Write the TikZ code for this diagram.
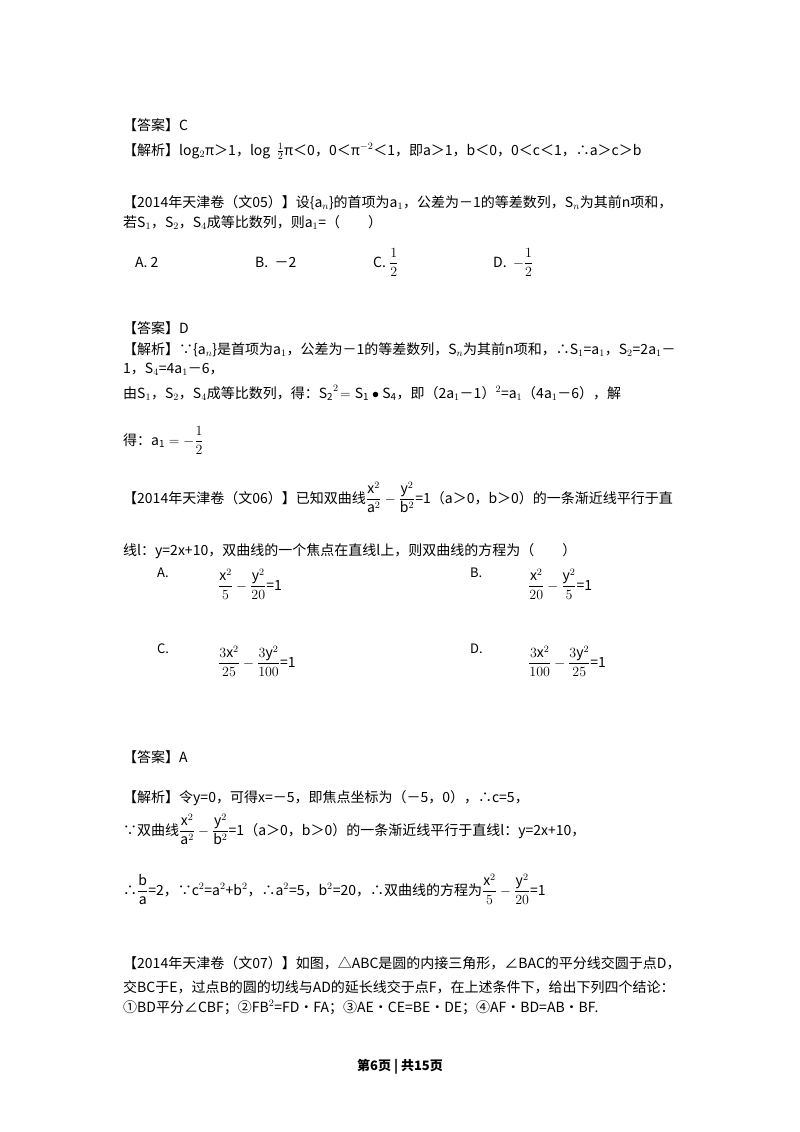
\RequirePackage{fix-cm}
\documentclass[tikz,border=0pt]{standalone}
\usepackage{amsmath}
\usepackage{fontspec}
\setmainfont{Noto Sans CJK SC}
\begin{document}
\begin{tikzpicture}[x=1pt,y=-1pt,
 t/.style={anchor=base west,inner sep=0pt,font=\fontsize{14}{16}\selectfont},
 s/.style={anchor=base west,inner sep=0pt,font=\fontsize{13}{15}\selectfont}]
\useasboundingbox[fill=white] (0,0) rectangle (800,1132);
\node[t] (l1) at (123,130) {【答案】C};
\node[t] (l2) at (123,155) {【解析】log$_2$π＞1，log\ \ $\frac{1}{2}$π＜0，0＜π$^{-2}$＜1，即a＞1，b＜0，0＜c＜1，∴a＞c＞b};
\node[t] (l3) at (123,207) {【2014年天津卷（文05）】设\{a$_n$\}的首项为a$_1$，公差为－1的等差数列，S$_n$为其前n项和，};
\node[t] (l4) at (123,227) {若S$_1$，S$_2$，S$_4$成等比数列，则a$_1$=（\qquad）};
\node[t] (oa) at (135,267) {A.\ 2};
\node[t] (ob) at (255,267) {B.\ \ －2};
\node[t] (oc) at (373,267) {C.\ $\dfrac{1}{2}$};
\node[t] (od) at (493,267) {D.\ \ $-\dfrac{1}{2}$};
\node[t] (l5) at (123,333) {【答案】D};
\node[t] (l6) at (123,354) {【解析】∵\{a$_n$\}是首项为a$_1$，公差为－1的等差数列，S$_n$为其前n项和，∴S$_1$=a$_1$，S$_2$=2a$_1$－};
\node[t] (l7) at (123,373) {1，S$_4$=4a$_1$－6，};
\node[t] (l8) at (123,398) {由S$_1$，S$_2$，S$_4$成等比数列，得：$\mathrm{S_2}^{2}\!=\mathrm{S_1}\bullet\mathrm{S_4}$，即（2a$_1$－1）$^2$=a$_1$（4a$_1$－6），解};
\node[t] (l9) at (123,445) {得：$\mathrm{a_1}=-\dfrac{1}{2}$};
\node[t] (l10) at (123,503) {【2014年天津卷（文06）】已知双曲线$\dfrac{\mathrm{x}^2}{\mathrm{a}^2}-\dfrac{\mathrm{y}^2}{\mathrm{b}^2}$=1（a＞0，b＞0）的一条渐近线平行于直};
\node[t] (l11) at (123,555) {线l：y=2x+10，双曲线的一个焦点在直线l上，则双曲线的方程为（\qquad）};
\node[s] (pa) at (157,577) {A.};
\node[t] (fa) at (218,590) {$\dfrac{\mathrm{x}^2}{5}-\dfrac{\mathrm{y}^2}{20}$=1};
\node[s] (pb) at (470,577) {B.};
\node[t] (fb) at (528,590) {$\dfrac{\mathrm{x}^2}{20}-\dfrac{\mathrm{y}^2}{5}$=1};
\node[s] (pc) at (157,653) {C.};
\node[t] (fc) at (218,667) {$\dfrac{3\mathrm{x}^2}{25}-\dfrac{3\mathrm{y}^2}{100}$=1};
\node[s] (pd) at (470,653) {D.};
\node[t] (fd) at (528,667) {$\dfrac{3\mathrm{x}^2}{100}-\dfrac{3\mathrm{y}^2}{25}$=1};
\node[t] (l12) at (123,762) {【答案】A};
\node[t] (l13) at (123,802) {【解析】令y=0，可得x=－5，即焦点坐标为（－5，0），∴c=5，};
\node[t] (l14) at (123,835) {∵双曲线$\dfrac{\mathrm{x}^2}{\mathrm{a}^2}-\dfrac{\mathrm{y}^2}{\mathrm{b}^2}$=1（a＞0，b＞0）的一条渐近线平行于直线l：y=2x+10，};
\node[t] (l15) at (123,895) {∴$\dfrac{\mathrm{b}}{\mathrm{a}}$=2，∵c$^2$=a$^2$+b$^2$，∴a$^2$=5，b$^2$=20，∴双曲线的方程为$\dfrac{\mathrm{x}^2}{5}-\dfrac{\mathrm{y}^2}{20}$=1};
\node[t] (l16) at (123,968) {【2014年天津卷（文07）】如图，△ABC是圆的内接三角形，∠BAC的平分线交圆于点D，};
\node[t] (l17) at (123,992) {交BC于E，过点B的圆的切线与AD的延长线交于点F，在上述条件下，给出下列四个结论：};
\node[t] (l18) at (123,1012) {①BD平分∠CBF；②FB$^2$=FD•FA；③AE•CE=BE•DE；④AF•BD=AB•BF.};
\node[anchor=base,inner sep=0pt,font=\fontsize{13}{15}\selectfont\bfseries] (ft) at (400,1070) {第6页 | 共15页};
\end{tikzpicture}
\end{document}
